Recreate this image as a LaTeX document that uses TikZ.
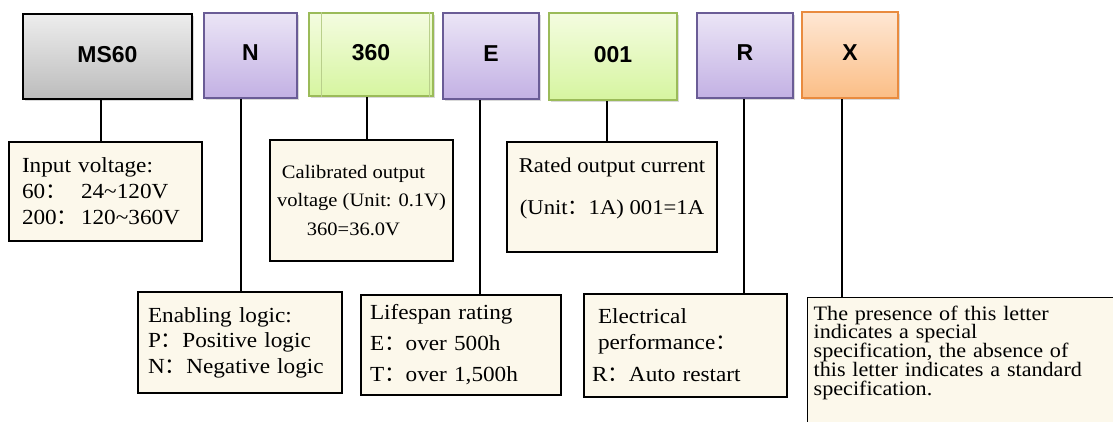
\documentclass[tikz,border=0pt]{standalone}
\usepackage{fontspec}
\setmainfont{Liberation Serif}[FakeStretch=1.08]
\setsansfont{Liberation Sans}
\newfontfamily\cjk{Noto Sans CJK SC}
\usepackage{xcolor}
\usetikzlibrary{shadows,calc}

\definecolor{cream}{HTML}{FCF8EB}
\definecolor{graytop}{HTML}{EDEDED}
\definecolor{graybot}{HTML}{BCBCBC}
\definecolor{purpletop}{HTML}{EBE5F6}
\definecolor{purplebot}{HTML}{C3B1E4}
\definecolor{purpleedge}{HTML}{6A5C96}
\definecolor{greentop}{HTML}{F4FCE0}
\definecolor{greenbot}{HTML}{D6F5A0}
\definecolor{greenedge}{HTML}{9BBB59}
\definecolor{orangetop}{HTML}{FEE7D4}
\definecolor{orangebot}{HTML}{FBBE86}
\definecolor{orangeedge}{HTML}{E98B3F}

% full-width colon as printed
\newcommand{\fcolon}{{\cjk ：}}
\newcommand{\tightlines}{\fontsize{20.5}{18.8}\selectfont\lineskiplimit=-50pt\relax}

\begin{document}
\begin{tikzpicture}[x=1pt, y=-1pt,
    codebox/.style={minimum height=85pt, text depth=5pt, font=\sffamily\bfseries\fontsize{23}{26}\selectfont,
        drop shadow={shadow xshift=1.5pt, shadow yshift=-2pt, opacity=.3}},
    graybox/.style={codebox, draw=black, line width=2.5pt, top color=graytop, bottom color=graybot},
    purplebox/.style={codebox, draw=purpleedge, line width=2pt, top color=purpletop, bottom color=purplebot},
    greenbox/.style={codebox, draw=greenedge, line width=2pt, top color=greentop, bottom color=greenbot},
    orangebox/.style={codebox, draw=orangeedge, line width=2pt, top color=orangetop, bottom color=orangebot},
    descbox/.style={draw=black, line width=1.3pt, fill=cream, inner ysep=2pt, align=left,
        font=\fontsize{21.5}{26}\selectfont},
    link/.style={draw=black, line width=2pt}
]
    \useasboundingbox (0,0) rectangle (1113,421);
    \clip (0,0) rectangle (1113,421);

    % code letters
    \node[graybox, minimum width=169pt] (ms) at (107.5,56.5) {MS60};
    \node[purplebox, minimum width=93pt] (en) at (250.5,55) {N};
    \node[greenbox, minimum width=124pt, minimum height=83pt] (cv) at (371,54.5) {360};
    \node[purplebox, minimum width=96pt, minimum height=86pt] (lf) at (491,56) {E};
    \node[greenbox, minimum width=128pt, minimum height=87pt] (rc) at (613,56.5) {001};
    \node[purplebox, minimum width=96pt] (ep) at (745,55.5) {R};
    \node[orangebox, minimum width=96pt, minimum height=86pt] (sp) at (850,55) {X};
    \draw[greenedge!70, line width=.8pt] ([xshift=13pt]cv.north west) -- ([xshift=13pt]cv.south west);
    \draw[greenedge!70, line width=.8pt] ([xshift=-5pt]cv.north east) -- ([xshift=-5pt]cv.south east);

    % descriptions
    \node[descbox, inner xsep=13pt, text width=167pt, minimum height=99pt] (inp) at (105.5,191.5)
        {Input voltage:\\
         \makebox[59pt][l]{60\fcolon}24\textasciitilde120V\\
         \makebox[59pt][l]{200\fcolon}120\textasciitilde360V};
    \node[descbox, align=center, inner xsep=2pt, minimum width=183pt, minimum height=121pt,
        font=\fontsize{19}{28.5}\selectfont] (cal) at (361.5,200.5)
        {Calibrated output\hspace*{16pt}\\voltage (Unit: 0.1V)\hspace*{16pt}\\360=36.0V\hspace*{16pt}};
    \node[descbox, align=center, inner xsep=2pt, minimum width=210pt, minimum height=110pt,
        font=\fontsize{21}{42}\selectfont] (rat) at (612,197)
        {Rated output current\\(Unit\fcolon 1A) 001=1A\rule[-22pt]{0pt}{0pt}};
    \node[descbox, inner xsep=10pt, text width=184pt, minimum height=101pt,
        font=\fontsize{21.5}{25.5}\selectfont] (enl) at (240,342.5)
        {Enabling logic:\\P\fcolon Positive logic\\N\fcolon Negative logic};
    \node[descbox, inner xsep=9pt, text width=182pt, minimum height=100pt,
        font=\fontsize{21.5}{31}\selectfont] (lsp) at (461,345)
        {Lifespan rating\\E\fcolon over 500h\\T\fcolon over 1,500h};
    \node[descbox, inner xsep=8pt, text width=187pt, minimum height=103pt] (elp) at (685.5,345.5)
        {\hspace*{6pt}Electrical\\\hspace*{6pt}performance\fcolon\\[6pt]R\fcolon Auto restart};
    \node[descbox, anchor=north west, inner xsep=6pt, inner ysep=8pt, text width=318pt,
        font=\tightlines] (spc) at (807,297)
        {The presence of this letter\\indicates a special\\specification, the absence of\\
         this letter indicates a standard\\specification.\rule[-60pt]{0pt}{0pt}};

    % connectors
    \draw[link] ([xshift=-6.5pt]ms.south) -- ([xshift=-6.5pt]ms.south |- inp.north);
    \draw[link] ([xshift=-9.5pt]en.south) -- ([xshift=-9.5pt]en.south |- enl.north);
    \draw[link] ([xshift=-4pt]cv.south) -- ([xshift=-4pt]cv.south |- cal.north);
    \draw[link] ([xshift=-11pt]lf.south) -- ([xshift=-11pt]lf.south |- lsp.north);
    \draw[link] ([xshift=-6pt]rc.south) -- ([xshift=-6pt]rc.south |- rat.north);
    \draw[link] ([xshift=-1pt]ep.south) -- ([xshift=-1pt]ep.south |- elp.north);
    \draw[link] ([xshift=-8pt]sp.south) -- ([xshift=-8pt]sp.south |- spc.north);
\end{tikzpicture}
\end{document}
